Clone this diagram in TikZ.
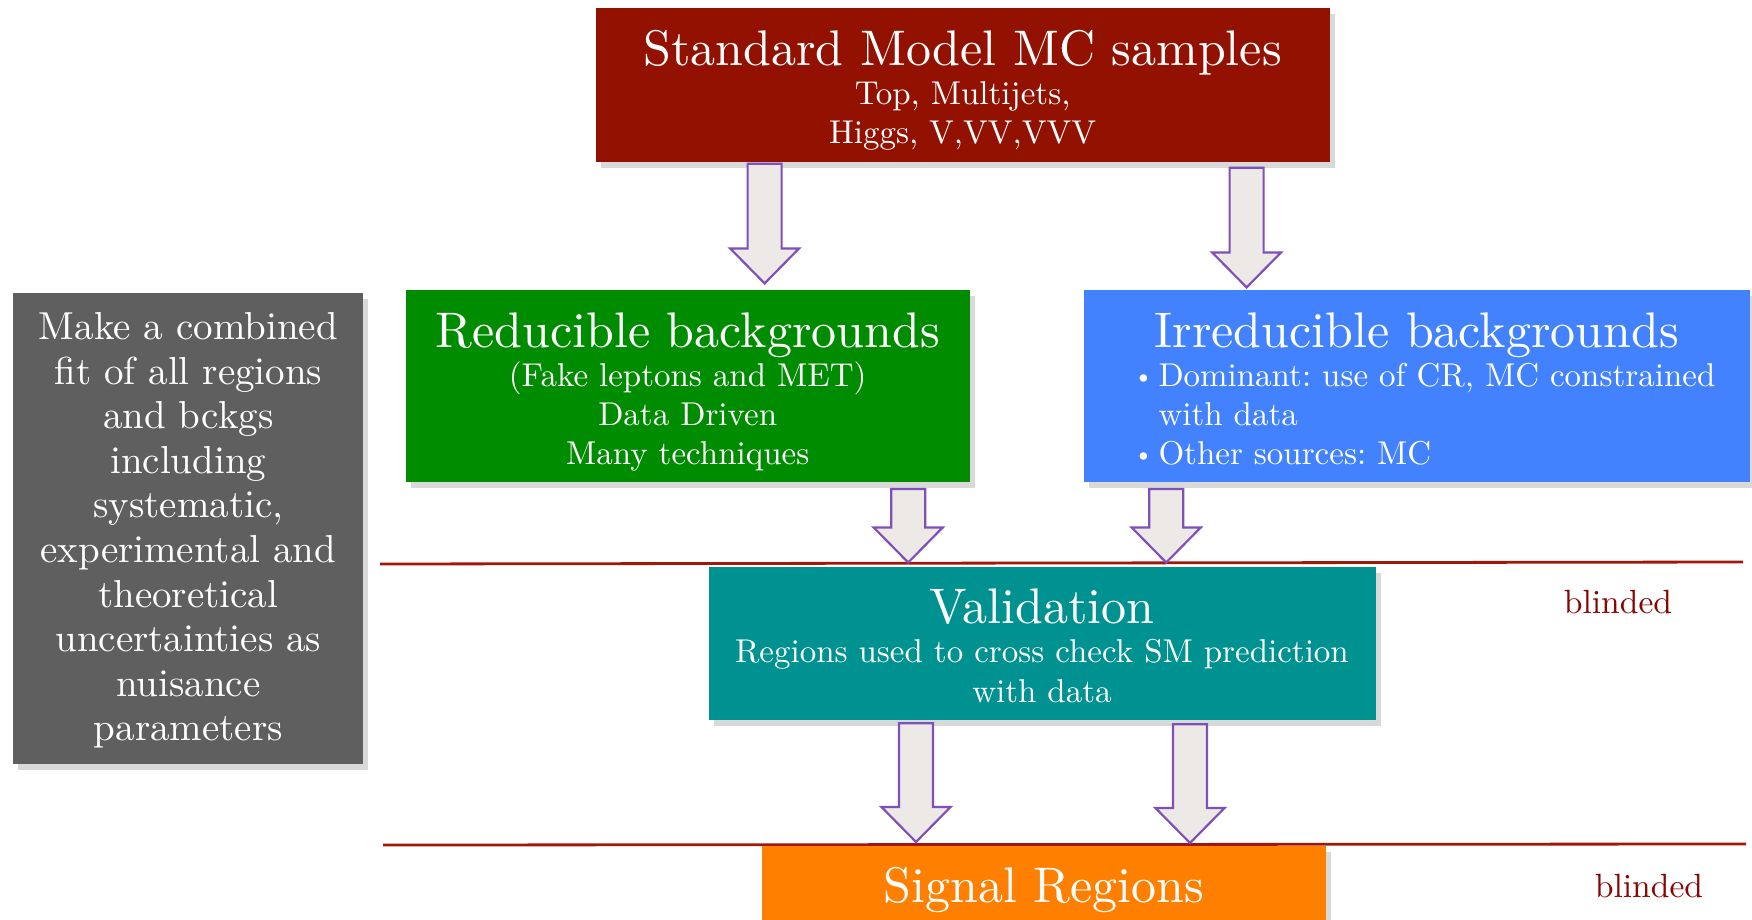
\documentclass[tikz,border=0pt]{standalone}
\usepackage{fontspec}
\setmainfont{lmroman10-regular.otf}
\usetikzlibrary{calc,shadows}

\definecolor{smred}{RGB}{146,17,0}
\definecolor{reducgreen}{RGB}{0,140,0}
\definecolor{irredblue}{RGB}{66,130,255}
\definecolor{validteal}{RGB}{0,145,145}
\definecolor{fitgray}{RGB}{95,95,95}
\definecolor{signalorange}{RGB}{255,127,0}
\definecolor{arrowfill}{RGB}{237,233,230}
\definecolor{arrowline}{RGB}{128,80,186}
\definecolor{linered}{RGB}{160,24,10}
\definecolor{blindred}{RGB}{135,5,5}

\newcommand{\fixspaces}{\spaceskip=\fontdimen2\font\xspaceskip=\fontdimen2\font}
\newcommand{\boxtitle}{\fontsize{25}{30}\selectfont\fixspaces}
\newcommand{\boxsub}{\fontsize{16.5}{19.6}\selectfont\fixspaces}
\newcommand{\boxbullet}{\llap{\raisebox{1pt}{\fontsize{13}{13}\selectfont\textbullet}\hspace{2.5pt}}}

\begin{document}
\begin{tikzpicture}
	[x=0.5pt, y=-0.5pt,
	box/.style={rectangle, anchor=north, inner sep=0pt, text=white, align=center,
		drop shadow={shadow xshift=2.5pt, shadow yshift=-3pt, opacity=.3}},
	fatarrow/.style={draw=arrowline, fill=arrowfill, line width=1.1pt,
		to path={let \p1=(\tikztostart), \p2=(\tikztotarget) in
			(\x1-8.5pt,\y1) -- (\x1-8.5pt,\y2+17.5pt) -- (\x1-17.25pt,\y2+17.5pt)
			-- (\x1,\y2) -- (\x1+17.25pt,\y2+17.5pt) -- (\x1+8.5pt,\y2+17.5pt)
			-- (\x1+8.5pt,\y1) -- cycle}},
	sepline/.style={draw=linered, line width=1.4pt},
	blind/.style={text=blindred, font=\fontsize{16.8}{20}\selectfont}]
	\useasboundingbox (0,0) rectangle (1752,920);
	% blinded borders
	\draw [sepline] (380,564) -- (1743,562);
	\draw [sepline] (383,845) -- (1746,844);
	% boxes
	\node (sm) [box, fill=smred, text width=367pt, text height=28.5pt, text depth=48.5pt]
		at (962.6,8)
		{{\boxtitle Standard Model MC samples\par}
		{\boxsub Top, Multijets,\\ Higgs, V,VV,VVV\par}};
	\node (reduc) [box, fill=reducgreen, text width=282pt, text height=28.65pt, text depth=67.45pt]
		at (687.7,289.4)
		{{\boxtitle Reducible backgrounds\par}
		{\boxsub (Fake leptons and MET)\\ Data Driven\\ Many techniques\par}};
	\node (irred) [box, fill=irredblue, text width=333pt, text height=28.65pt, text depth=67.45pt]
		at (1416.7,289.4)
		{{\boxtitle Irreducible backgrounds\par}
		{\boxsub\raggedright\parindent=0pt\leftskip=37.4pt
		\noindent\boxbullet Dominant: use of CR, MC constrained\\ with data\par
		\noindent\boxbullet Other sources: MC\par}};
	\node (fit) [box, fill=fitgray, text width=175pt, text height=23.5pt, text depth=212pt,
		font=\fontsize{19.5}{22.26}\selectfont\fixspaces]
		at (188.3,292.5)
		{Make a combined\\ fit of all regions\\ and bckgs\\ including\\ systematic,\\
		experimental and\\ theoretical\\ uncertainties as\\ nuisance\\ parameters};
	\node (valid) [box, fill=validteal, text width=333.5pt, text height=28.4pt, text depth=48.1pt]
		at (1042,566.5)
		{{\boxtitle Validation\par}
		{\boxsub Regions used to cross check SM prediction\\ with data\par}};
	\node (signal) [box, fill=signalorange, text width=282pt, text height=27.85pt, text depth=14pt]
		at (1044,846)
		{\boxtitle Signal Regions};
	\node (blindvr) [blind] at (1618,602) {blinded};
	\node (blindsr) [blind] at (1649,886) {blinded};
	% flow arrows
	\draw [fatarrow] ($(sm.south)+(-198,1)$) to ($(reduc.north)+(0,-6)$);
	\draw [fatarrow] ($(sm.south)+(284,5)$) to ($(irred.north)+(0,-2)$);
	\draw [fatarrow] ($(reduc.south)+(220.5,6.5)$) to ($(valid.north)+(0,-4)$);
	\draw [fatarrow] ($(irred.south)+(-250.5,6.5)$) to ($(valid.north)+(0,-4)$);
	\draw [fatarrow] ($(valid.south)+(-126,3)$) to ($(signal.north)+(0,-4)$);
	\draw [fatarrow] ($(valid.south)+(148,4)$) to ($(signal.north)+(0,-3)$);
\end{tikzpicture}
\end{document}
